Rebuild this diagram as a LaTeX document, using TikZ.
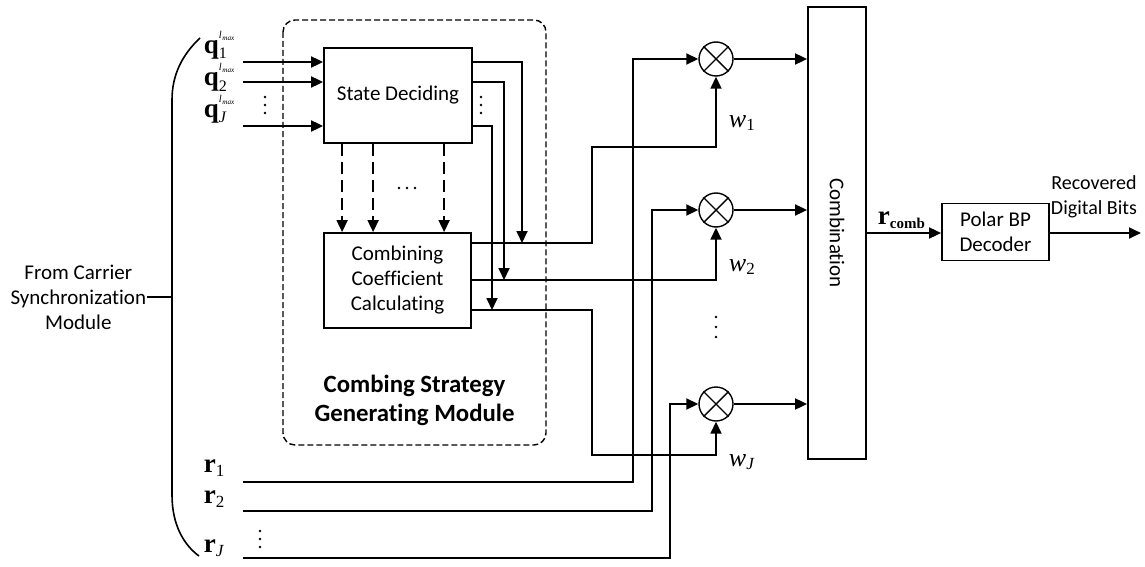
\documentclass[tikz,border=0pt]{standalone}
\usepackage{fontspec}
\setmainfont{Carlito}[Ligatures=NoCommon]
\newfontfamily\tms{Liberation Serif}
\usetikzlibrary{arrows.meta,calc}
\newcommand\myq[1]{{\fontsize{13.5}{15}\selectfont\tms\bfseries q\mdseries\rlap{\raisebox{7.6pt}{\itshape\fontsize{5.2}{5.2}\selectfont l\kern0.3pt\raisebox{-0.9pt}{\fontsize{3.6}{3.6}\selectfont max}}}\raisebox{-2.5pt}{\fontsize{8}{8}\selectfont #1}}}
\newcommand\myr[1]{{\fontsize{13.5}{15}\selectfont\hbox{\tms\bfseries r}$_{\hbox{\tms\fontsize{8.5}{8.5}\selectfont #1}}$}}
\newcommand\myw[1]{{\fontsize{13}{15}\selectfont\hbox{\tms\itshape w}$_{\hbox{\tms\fontsize{8.5}{8.5}\selectfont #1}}$}}
\begin{document}
\begin{tikzpicture}[x=0.5pt,y=-0.5pt,
  line width=0.9pt,
  arr/.style={-{Triangle[length=6pt,width=5.5pt]}},
  darr/.style={-{Triangle[length=6pt,width=5.5pt]},dash pattern=on 6pt off 3pt},
  blk/.style={draw,rectangle,line width=0.9pt,align=center,font=\fontsize{10.5}{12.5}\selectfont,inner sep=0pt},
  mult/.style={draw,circle,minimum size=17pt,inner sep=0pt,line width=0.7pt},
  lab/.style={inner sep=0pt,anchor=base west},
  txt/.style={inner sep=0pt,align=center,font=\fontsize{10.5}{12.5}\selectfont},
  dot/.style={fill,circle,inner sep=0pt,minimum size=1.4pt}]
\path[use as bounding box,fill=white] (0,0) rectangle (1145,567);

% left bracket
\draw[line width=0.8pt] (200,38) .. controls (182,55) and (172,75) .. (172,100) -- (172,495) .. controls (172,525) and (184,545) .. (199,556);
\node[txt,anchor=east] (src) at (147,297) {From Carrier\\Synchronization\\Module};
\coordinate (brk) at (172,297);
\draw[line width=0.9pt] (src.east) -- (brk);

% dashed module box
\draw[line width=0.7pt,dash pattern=on 3pt off 1.5pt,rounded corners=6pt] (283,20) rectangle (546,445);
\node[txt,font=\fontsize{12.4}{14.5}\selectfont\bfseries] (title) at (414.5,400) {Combing Strategy\\Generating Module};

% blocks
\node[blk,minimum width=74pt,minimum height=47.5pt] (sd) at (398,95.5) {State Deciding};
\node[blk,minimum width=73.5pt,minimum height=47.5pt] (cc) at (397.5,280.5) {Combining\\Coefficient\\Calculating};
\node[blk,minimum width=29pt,minimum height=226pt] (comb) at (837,233) {};
\node[txt,rotate=-90] (combt) at (comb.center) {Combination};
\node[blk,minimum width=53.5pt,minimum height=28.5pt] (bp) at (995.5,232) {Polar BP\\Decoder};

% multipliers
\node[mult] (m1) at (716,59) {};
\node[mult] (m2) at (716,210) {};
\node[mult] (mJ) at (716,404) {};
\foreach \m in {m1,m2,mJ}{
  \draw[line width=0.7pt] (\m.north east) -- (\m.south west);
  \draw[line width=0.7pt] (\m.north west) -- (\m.south east);
}

% q inputs
\coordinate (qa) at (243,62);
\coordinate (qb) at (243,82);
\coordinate (qc) at (243,126);
\draw[arr] (qa) -- (sd.west|-qa);
\draw[arr] (qb) -- (sd.west|-qb);
\draw[arr] (qc) -- (sd.west|-qc);
\node[lab] (ql1) at (203,54) {\myq{1}};
\node[lab] (ql2) at (203,86) {\myq{2}};
\node[lab] (qlJ) at (203,118) {\myq{\itshape J}};
\foreach \yy in {97,105,113} \node[dot] at (265,\yy) {};

% state deciding outputs
\coordinate (t1) at (522,243);
\coordinate (t2) at (504,280);
\coordinate (t3) at (492,310);
\draw[arr] (sd.east|-qa) -| (t1);
\draw[arr] (sd.east|-qb) -| (t2);
\draw[arr] (sd.east|-qc) -| (t3);
\foreach \yy in {97,105,113} \node[dot] at (481,\yy) {};

% dashed arrows
\draw[darr] ([xshift=9.5pt]sd.south west) -- ([xshift=9.5pt]cc.north west);
\draw[darr] ([xshift=25pt]sd.south west) -- ([xshift=25pt]cc.north west);
\draw[darr] ([xshift=60.5pt]sd.south west) -- ([xshift=60.5pt]cc.north west);
\foreach \xx in {399,407,415} \node[dot] at (\xx,188) {};

% coefficient outputs
\coordinate (c1) at (592,147);
\coordinate (c3) at (592,455);
\draw[arr] (cc.east|-t1) -| (c1) -| (m1.south);
\draw[arr] (cc.east|-t2) -| (m2.south);
\draw[arr] (cc.east|-t3) -| (c3) -| (mJ.south);
\node[lab] (w1) at (728,127) {\myw{1}};
\node[lab] (w2) at (728,271) {\myw{2}};
\node[lab] (wJ) at (728,466) {\myw{\itshape J}};
\foreach \yy in {317,327,337} \node[dot] at (716,\yy) {};

% r inputs
\coordinate (ra) at (243,482);
\coordinate (rb) at (243,511);
\coordinate (rc) at (243,558);
\coordinate (ba) at (633,482);
\coordinate (bb) at (652,511);
\coordinate (bc) at (670,558);
\draw[arr] (ra) -- (ba) |- (m1.west);
\draw[arr] (rb) -- (bb) |- (m2.west);
\draw[arr] (rc) -- (bc) |- (mJ.west);
\node[lab] (rl1) at (203,472) {\myr{1}};
\node[lab] (rl2) at (203,503) {\myr{2}};
\node[lab] (rlJ) at (203,552) {\myr{\itshape J}};
\foreach \yy in {531,539,547} \node[dot] at (260,\yy) {};

% multiplier outputs
\draw[arr] (m1.east) -- (m1.east-|comb.west);
\draw[arr] (m2.east) -- (m2.east-|comb.west);
\draw[arr] (mJ.east) -- (mJ.east-|comb.west);

% combination to decoder
\coordinate (cout) at (comb.east|-0,233);
\draw[arr] (cout) -- (bp.west|-cout);
\node[lab] (rcl) at (877,224) {{\fontsize{13.5}{15}\selectfont\hbox{\tms\bfseries r}$_{\hbox{\tms\bfseries\fontsize{7.5}{7.5}\selectfont comb}}$}};
\coordinate (out) at (1141,233);
\draw[arr] (bp.east|-out) -- (out);
\node[txt,font=\fontsize{10}{12.5}\selectfont] (rec) at (1094,197) {Recovered\\Digital Bits};
\end{tikzpicture}
\end{document}
